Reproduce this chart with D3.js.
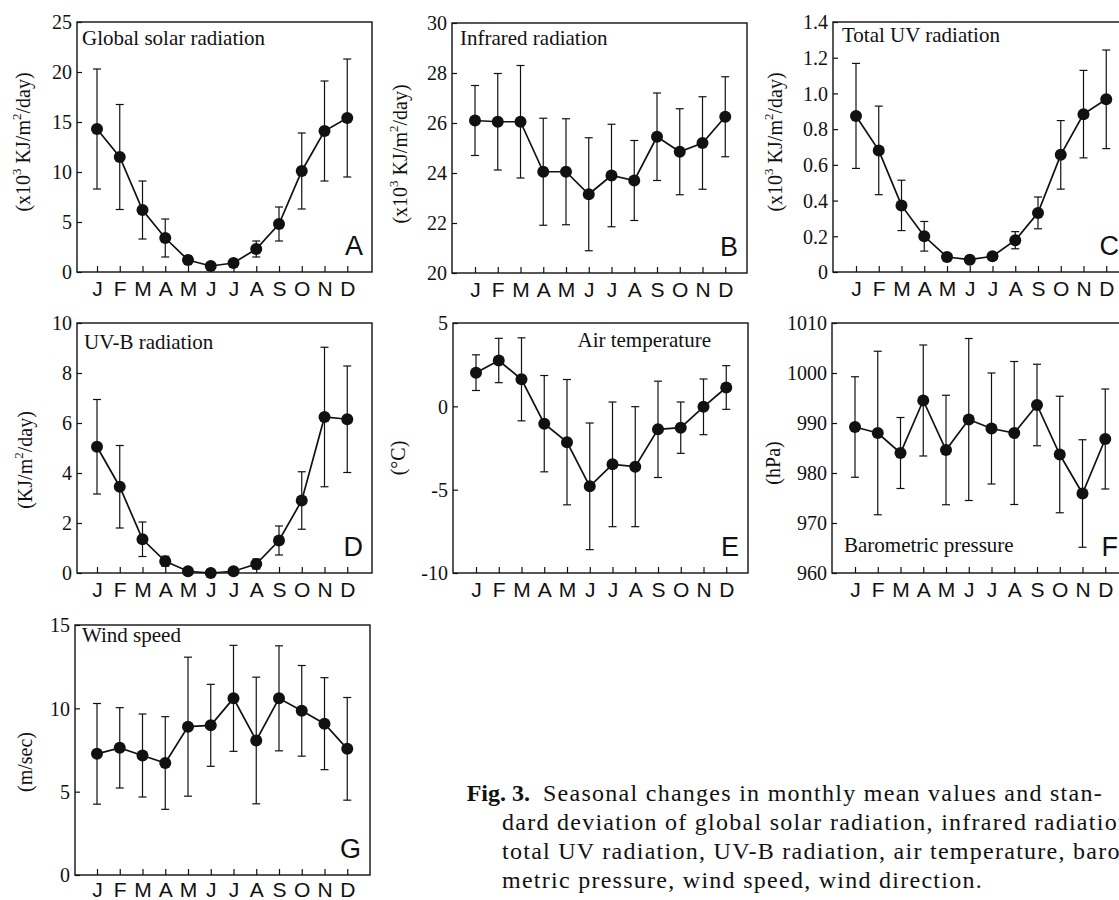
<!DOCTYPE html>
<html>
<head>
<meta charset="utf-8">
<script src="https://cdn.jsdelivr.net/npm/d3@7"></script>
<style>
  body { margin: 0; background: #fff; }
  svg { display: block; }
</style>
</head>
<body>
<svg id="fig" width="1119" height="900"></svg>
<script>
var months = ["J", "F", "M", "A", "M", "J", "J", "A", "S", "O", "N", "D"];

// A: global solar radiation (x10^3 KJ/m2/day)
var solarMean = [14.3, 11.5, 6.2, 3.4, 1.2, 0.6, 0.9, 2.3, 4.8, 10.1, 14.1, 15.4];
var solarSd = [6.0, 5.25, 2.9, 1.9, 0.4, 0.3, 0.3, 0.8, 1.7, 3.8, 5.0, 5.9];
// B: infrared radiation
var infraMean = [26.1, 26.05, 26.05, 24.05, 24.05, 23.15, 23.9, 23.7, 25.45, 24.85, 25.2, 26.25];
var infraSd = [1.4, 1.93, 2.25, 2.14, 2.12, 2.26, 2.05, 1.6, 1.75, 1.72, 1.85, 1.6];
// C: total UV radiation
var uvMean = [0.874, 0.681, 0.373, 0.2, 0.084, 0.069, 0.088, 0.178, 0.331, 0.656, 0.884, 0.967];
var uvSd = [0.294, 0.248, 0.141, 0.083, 0.02, 0.015, 0.02, 0.048, 0.089, 0.192, 0.245, 0.276];
// D: UV-B radiation (KJ/m2/day)
var uvbMean = [5.05, 3.45, 1.35, 0.47, 0.07, 0.0, 0.07, 0.36, 1.3, 2.9, 6.24, 6.15];
var uvbSd = [1.89, 1.65, 0.69, 0.2, 0.05, 0.03, 0.05, 0.2, 0.58, 1.15, 2.79, 2.13];
// E: air temperature (deg C)
var tempMean = [2.02, 2.75, 1.62, -1.04, -2.15, -4.8, -3.48, -3.62, -1.38, -1.28, -0.03, 1.13];
var tempSd = [1.07, 1.33, 2.49, 2.89, 3.76, 3.8, 3.74, 3.6, 2.89, 1.54, 1.67, 1.31];
// F: barometric pressure (hPa)
var pressMean = [989.2, 988.0, 984.0, 994.5, 984.6, 990.7, 988.9, 988.0, 993.6, 983.7, 975.9, 986.8];
var pressSd = [10.05, 16.35, 7.1, 11.1, 10.95, 16.2, 11.1, 14.3, 8.15, 11.65, 10.75, 10.0];
// G: wind speed (m/sec)
var windMean = [7.27, 7.63, 7.17, 6.72, 8.9, 8.98, 10.6, 8.07, 10.6, 9.85, 9.08, 7.57];
var windSd = [3.02, 2.41, 2.49, 2.78, 4.17, 2.46, 3.18, 3.8, 3.15, 2.72, 2.76, 3.08];

var ticksA = [0, 5, 10, 15, 20, 25];
var ticksB = [20, 22, 24, 26, 28, 30];
var ticksC = [0, 0.2, 0.4, 0.6, 0.8, 1.0, 1.2, 1.4];
var ticksD = [0, 2, 4, 6, 8, 10];
var ticksE = [-10, -5, 0, 5];
var ticksF = [960, 970, 980, 990, 1000, 1010];
var ticksG = [0, 5, 10, 15];

var kjUnit = [["(x10", 0], ["3", 1], [" KJ/m", 0], ["2", 1], ["/day)", 0]];

var serif = "'Liberation Serif', 'Times New Roman', serif";
var sans = "'Liberation Sans', Arial, Helvetica, sans-serif";
var ink = "#111";

var panels = [
    { key: "A", title: "Global solar radiation", mean: solarMean, sd: solarSd, ticks: ticksA,
      unit: kjUnit, left: 77, top: 22, off: 20, tpos: [5, 23], upos: [-54, 120] },
    { key: "B", title: "Infrared radiation", mean: infraMean, sd: infraSd, ticks: ticksB,
      unit: kjUnit, left: 452, top: 23, off: 23, tpos: [8, 22], upos: [-52, 131] },
    { key: "C", title: "Total UV radiation", mean: uvMean, sd: uvSd, ticks: ticksC,
      fmt: function (d) { return d === 0 ? "0" : d3.format(".1f")(d); },
      unit: kjUnit, left: 833, top: 22, off: 23, tpos: [9, 20], upos: [-58, 120] },
    { key: "D", title: "UV-B radiation", mean: uvbMean, sd: uvbSd, ticks: ticksD,
      unit: [["(KJ/m", 0], ["2", 1], ["/day)", 0]], left: 77, top: 323, off: 20, tpos: [7, 26], upos: [-52, 137] },
    { key: "E", title: "Air temperature", anchorEnd: true, mean: tempMean, sd: tempSd, ticks: ticksE,
      unit: [["(°C)", 0]], left: 453, top: 323, off: 23, tpos: [-37, 24], upos: [-55, 135] },
    { key: "F", title: "Barometric pressure", titleBottom: true, mean: pressMean, sd: pressSd, ticks: ticksF,
      unit: [["(hPa)", 0]], left: 832, top: 323, off: 23, tpos: [12, -21], upos: [-59, 140] },
    { key: "G", title: "Wind speed", mean: windMean, sd: windSd, ticks: ticksG, labelY: 22,
      unit: [["(m/sec)", 0]], left: 75, top: 625, off: 22, tpos: [7, 17], upos: [-50, 137] }
];

var svg = d3.select("#fig");
svg.append("rect").attr("width", 1119).attr("height", 900).attr("fill", "#fff");

var W = 295, H = 250, step = 22.75;

panels.forEach(function (p) {
    var g = svg.append("g").attr("transform", "translate(" + p.left + "," + p.top + ")");

    var x = d3.scaleLinear().domain([0, 11]).range([p.off, p.off + 11 * step]);
    var y = d3.scaleLinear().domain(d3.extent(p.ticks)).range([H, 0]);

    // y axis, ticks pointing inward
    var yAxis = d3.axisLeft(y)
        .tickValues(p.ticks)
        .tickSizeInner(-5)
        .tickSizeOuter(0)
        .tickPadding(5)
        .tickFormat(p.fmt || String);
    var ya = g.append("g").call(yAxis);
    ya.select(".domain").remove();
    ya.selectAll("line").attr("stroke", ink).attr("stroke-width", 1.2);
    ya.selectAll("text")
        .attr("fill", ink)
        .attr("font-family", serif)
        .attr("font-size", 20)
        .attr("dy", "0.34em");

    // x axis, month initials
    var xAxis = d3.axisBottom(x)
        .tickValues(d3.range(12))
        .tickSizeInner(-6)
        .tickSizeOuter(0)
        .tickFormat(function (i) { return months[i]; });
    var xa = g.append("g").attr("transform", "translate(0," + H + ")").call(xAxis);
    xa.select(".domain").remove();
    xa.selectAll("line").attr("stroke", ink).attr("stroke-width", 1.2);
    xa.selectAll("text")
        .attr("y", p.labelY || 24)
        .attr("dy", null)
        .attr("fill", ink)
        .attr("font-family", sans)
        .attr("font-size", 21);

    // frame
    g.append("rect")
        .attr("width", W)
        .attr("height", H)
        .attr("fill", "none")
        .attr("stroke", ink)
        .attr("stroke-width", 1.4);

    // error bars
    var bars = g.selectAll(".err")
        .data(p.mean)
        .enter()
        .append("g")
        .attr("class", "err")
        .attr("stroke", ink)
        .attr("stroke-width", 1.2);
    bars.append("line")
        .attr("x1", function (d, i) { return x(i); })
        .attr("x2", function (d, i) { return x(i); })
        .attr("y1", function (d, i) { return y(d - p.sd[i]); })
        .attr("y2", function (d, i) { return y(d + p.sd[i]); });
    [-1, 1].forEach(function (s) {
        bars.append("line")
            .attr("x1", function (d, i) { return x(i) - 4; })
            .attr("x2", function (d, i) { return x(i) + 4; })
            .attr("y1", function (d, i) { return y(d + s * p.sd[i]); })
            .attr("y2", function (d, i) { return y(d + s * p.sd[i]); });
    });

    // mean line + dots
    var line = d3.line()
        .x(function (d, i) { return x(i); })
        .y(function (d) { return y(d); });
    g.append("path")
        .datum(p.mean)
        .attr("d", line)
        .attr("fill", "none")
        .attr("stroke", ink)
        .attr("stroke-width", 1.7);
    g.selectAll(".dot")
        .data(p.mean)
        .enter()
        .append("circle")
        .attr("class", "dot")
        .attr("cx", function (d, i) { return x(i); })
        .attr("cy", function (d) { return y(d); })
        .attr("r", 6)
        .attr("fill", ink);

    // panel title
    g.append("text")
        .attr("x", p.anchorEnd ? W + p.tpos[0] : p.tpos[0])
        .attr("y", p.titleBottom ? H + p.tpos[1] : p.tpos[1])
        .attr("text-anchor", p.anchorEnd ? "end" : "start")
        .attr("font-family", serif)
        .attr("font-size", 21)
        .attr("fill", ink)
        .text(p.title);

    // panel letter
    g.append("text")
        .attr("x", W - 9)
        .attr("y", H - 17)
        .attr("text-anchor", "end")
        .attr("font-family", sans)
        .attr("font-size", 27)
        .attr("fill", ink)
        .text(p.key);

    // y axis title (rotated)
    var ut = g.append("text")
        .attr("transform", "translate(" + p.upos[0] + "," + p.upos[1] + ") rotate(-90)")
        .attr("text-anchor", "middle")
        .attr("dominant-baseline", "central")
        .attr("font-family", serif)
        .attr("font-size", 20)
        .attr("fill", ink);
    var prevSup = 0;
    p.unit.forEach(function (u) {
        var t = ut.append("tspan").text(u[0]);
        if (u[1]) t.attr("font-size", 13).attr("dy", -7);
        else if (prevSup) t.attr("dy", 7);
        prevSup = u[1];
    });
});

// caption
var capSize = 24;
var capLines = [
    "Seasonal changes in monthly mean values and stan-",
    "dard deviation of global solar radiation, infrared radiation,",
    "total UV radiation, UV-B radiation, air temperature, baro-",
    "metric pressure, wind speed, wind direction."
];
var cap = svg.append("g")
    .attr("font-family", serif)
    .attr("font-size", capSize)
    .attr("fill", ink);

// fit spacing so the last line spans like the printed one
var probe = cap.append("text").text(capLines[3]);
var natural = probe.node().getComputedTextLength();
probe.remove();
var spacing = (481 - natural) / capLines[3].length;

cap.append("text")
    .attr("x", 530)
    .attr("y", 801)
    .attr("text-anchor", "end")
    .attr("font-weight", "bold")
    .text("Fig. 3.");
cap.selectAll(".capline")
    .data(capLines)
    .enter()
    .append("text")
    .attr("class", "capline")
    .attr("x", function (d, i) { return i === 0 ? 543 : 502; })
    .attr("y", function (d, i) { return 801 + i * 29; })
    .attr("letter-spacing", spacing)
    .text(function (d) { return d; });
</script>
</body>
</html>
